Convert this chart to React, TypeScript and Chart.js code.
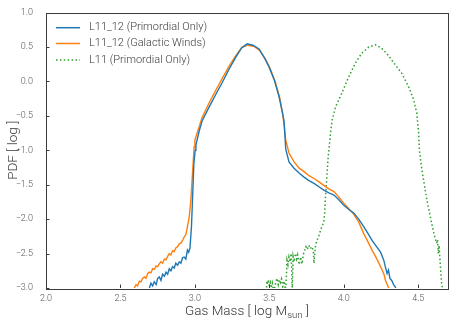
import React, { useEffect, useRef } from 'react';
import { Chart, registerables } from 'chart.js';

Chart.register(...registerables);

// ---------- data ----------
const xTicks = [2.0, 2.5, 3.0, 3.5, 4.0, 4.5];
const yTicks = [-3.0, -2.5, -2.0, -1.5, -1.0, -0.5, 0.0, 0.5, 1.0];
const seriesLabels = ['L11_12 (Primordial Only)', 'L11_12 (Galactic Winds)', 'L11 (Primordial Only)'];
const xLabelMain = 'Gas Mass [ log M';
const xLabelSub = 'sun';
const xLabelEnd = ' ]';
const yLabel = 'PDF [ log ]';

const primX = [2.680, 2.694, 2.705, 2.716, 2.727, 2.740, 2.750, 2.761, 2.772, 2.783, 2.795, 2.806, 2.817, 2.828, 2.839, 2.850, 2.861, 2.872, 2.884, 2.895, 2.906, 2.917, 2.928, 2.939, 2.950, 2.958, 2.967, 2.977, 2.984, 2.993, 3.002, 3.007, 3.029, 3.049, 3.096, 3.140, 3.183, 3.230, 3.277, 3.315, 3.351, 3.390, 3.431, 3.470, 3.498, 3.535, 3.565, 3.585, 3.599, 3.610, 3.632, 3.666, 3.700, 3.733, 3.766, 3.800, 3.833, 3.866, 3.900, 3.934, 3.967, 4.000, 4.034, 4.067, 4.100, 4.134, 4.160, 4.190, 4.220, 4.247, 4.260, 4.269, 4.280, 4.291, 4.300, 4.310, 4.322, 4.335, 4.347, 4.355];
const primY = [-3.05, -3.00, -2.93, -2.97, -2.91, -2.95, -2.86, -2.84, -2.89, -2.80, -2.83, -2.77, -2.80, -2.72, -2.75, -2.69, -2.71, -2.64, -2.67, -2.62, -2.64, -2.56, -2.55, -2.58, -2.45, -2.48, -2.42, -2.11, -1.72, -1.20, -1.00, -0.92, -0.72, -0.57, -0.37, -0.19, -0.02, 0.18, 0.36, 0.49, 0.545, 0.525, 0.47, 0.33, 0.21, 0.01, -0.22, -0.42, -0.58, -0.98, -1.17, -1.26, -1.33, -1.39, -1.44, -1.48, -1.53, -1.58, -1.62, -1.65, -1.72, -1.80, -1.86, -1.91, -2.00, -2.11, -2.20, -2.31, -2.40, -2.48, -2.55, -2.60, -2.70, -2.79, -2.74, -2.86, -2.89, -2.95, -2.99, -3.05];

const windX = [2.585, 2.593, 2.605, 2.615, 2.627, 2.638, 2.649, 2.660, 2.671, 2.683, 2.694, 2.705, 2.716, 2.727, 2.740, 2.750, 2.761, 2.772, 2.783, 2.795, 2.806, 2.817, 2.828, 2.839, 2.850, 2.861, 2.872, 2.884, 2.895, 2.906, 2.917, 2.928, 2.940, 2.950, 2.962, 2.973, 2.985, 2.995, 3.000, 3.029, 3.049, 3.096, 3.140, 3.183, 3.230, 3.277, 3.315, 3.355, 3.395, 3.435, 3.475, 3.505, 3.540, 3.570, 3.590, 3.600, 3.610, 3.632, 3.666, 3.700, 3.733, 3.766, 3.800, 3.833, 3.866, 3.900, 3.934, 3.967, 4.000, 4.034, 4.067, 4.100, 4.134, 4.160, 4.190, 4.220, 4.247, 4.270, 4.280, 4.302, 4.310];
const windY = [-3.05, -3.00, -2.95, -2.97, -2.90, -2.91, -2.86, -2.84, -2.86, -2.79, -2.77, -2.78, -2.72, -2.73, -2.68, -2.69, -2.65, -2.62, -2.64, -2.58, -2.59, -2.54, -2.50, -2.52, -2.46, -2.47, -2.42, -2.40, -2.36, -2.35, -2.31, -2.26, -2.22, -2.11, -1.97, -1.72, -1.30, -0.95, -0.85, -0.66, -0.52, -0.31, -0.13, 0.04, 0.22, 0.38, 0.49, 0.525, 0.51, 0.45, 0.32, 0.19, -0.01, -0.24, -0.48, -0.65, -0.85, -1.04, -1.17, -1.26, -1.31, -1.37, -1.41, -1.46, -1.51, -1.56, -1.60, -1.68, -1.77, -1.85, -1.93, -2.04, -2.21, -2.32, -2.45, -2.57, -2.69, -2.80, -2.89, -3.00, -3.05];

const l11X = [3.480, 3.483, 3.487, 3.493, 3.500, 3.507, 3.513, 3.520, 3.530, 3.545, 3.552, 3.560, 3.567, 3.575, 3.582, 3.590, 3.599, 3.610, 3.619, 3.625, 3.632, 3.640, 3.647, 3.654, 3.660, 3.666, 3.675, 3.683, 3.690, 3.700, 3.710, 3.719, 3.730, 3.746, 3.755, 3.765, 3.775, 3.785, 3.795, 3.800, 3.810, 3.820, 3.833, 3.844, 3.855, 3.866, 3.872, 3.877, 3.885, 3.895, 3.900, 3.911, 3.922, 3.945, 3.987, 4.034, 4.079, 4.121, 4.168, 4.213, 4.255, 4.290, 4.322, 4.360, 4.389, 4.436, 4.470, 4.490, 4.503, 4.508, 4.525, 4.559, 4.590, 4.610, 4.624, 4.630, 4.635, 4.640, 4.645, 4.649, 4.658, 4.671];
const l11Y = [-3.05, -2.90, -2.95, -2.88, -2.97, -2.92, -3.00, -2.93, -3.05, -2.90, -2.86, -2.95, -2.88, -2.92, -2.87, -2.98, -2.90, -3.05, -2.60, -2.66, -2.55, -2.62, -2.50, -3.05, -2.55, -2.62, -2.50, -2.58, -2.52, -2.66, -2.55, -2.65, -2.50, -2.40, -2.44, -2.38, -2.43, -2.40, -2.45, -2.64, -2.38, -2.31, -2.24, -2.16, -2.10, -2.04, -1.90, -1.68, -1.43, -1.10, -1.00, -0.75, -0.56, -0.37, -0.17, 0.07, 0.27, 0.41, 0.50, 0.53, 0.48, 0.40, 0.31, 0.20, 0.12, -0.08, -0.27, -0.46, -0.75, -1.00, -1.29, -1.73, -2.06, -2.25, -2.35, -2.30, -2.50, -2.38, -2.55, -2.69, -2.96, -3.05];

const colors = ['#1f77b4', '#ff7f0e', '#2ca02c'];
const dashes: number[][] = [[], [], [1.5, 2.4]];

const FONT = 'Roboto';
const fmt = (v: number) => v.toFixed(1).replace('-', '\u2212');
const toPts = (xs: number[], ys: number[]) => xs.map((x, i) => ({ x, y: ys[i] }));

const decor = {
  id: 'decor',
  afterDraw(chart: any) {
    const { ctx, chartArea: a, scales } = chart;
    const xs = scales.x;
    const ys = scales.y;
    ctx.save();
    // frame
    ctx.strokeStyle = '#3c3c3c';
    ctx.lineWidth = 1;
    ctx.strokeRect(Math.round(a.left) + 0.5, Math.round(a.top) + 0.5, Math.round(a.right - a.left), Math.round(a.bottom - a.top));
    // inward ticks
    ctx.beginPath();
    xTicks.forEach((v) => {
      const px = Math.round(xs.getPixelForValue(v)) + 0.5;
      ctx.moveTo(px, a.bottom);
      ctx.lineTo(px, a.bottom - 3.5);
    });
    yTicks.forEach((v) => {
      const py = Math.round(ys.getPixelForValue(v)) + 0.5;
      ctx.moveTo(a.left, py);
      ctx.lineTo(a.left + 3.5, py);
    });
    ctx.stroke();

    // legend
    const rows = [27.7, 43.5, 60];
    ctx.textBaseline = 'middle';
    ctx.textAlign = 'left';
    ctx.font = `300 11px ${FONT}`;
    seriesLabels.forEach((lab, i) => {
      const yy = rows[i];
      ctx.strokeStyle = colors[i];
      ctx.lineWidth = 1.5;
      ctx.setLineDash(dashes[i]);
      ctx.beginPath();
      ctx.moveTo(a.left + 10, yy);
      ctx.lineTo(a.left + 34, yy);
      ctx.stroke();
      ctx.setLineDash([]);
      ctx.fillStyle = '#3a3a3a';
      ctx.fillText(lab, a.left + 43, yy);
    });

    // x title with subscript
    const big = `300 13.5px ${FONT}`;
    const small = `300 9.5px ${FONT}`;
    ctx.font = big;
    const w1 = ctx.measureText(xLabelMain).width;
    const w3 = ctx.measureText(xLabelEnd).width;
    ctx.font = small;
    const w2 = ctx.measureText(xLabelSub).width;
    const total = w1 + w2 + w3;
    let sx = (a.left + a.right) / 2 - total / 2;
    const ty = 310;
    ctx.fillStyle = '#333';
    ctx.textBaseline = 'alphabetic';
    ctx.font = big;
    ctx.fillText(xLabelMain, sx, ty + 5);
    sx += w1;
    ctx.font = small;
    ctx.fillText(xLabelSub, sx, ty + 7.5);
    sx += w2;
    ctx.font = big;
    ctx.fillText(xLabelEnd, sx, ty + 5);

    // y title
    ctx.translate(14, (a.top + a.bottom) / 2);
    ctx.rotate(-Math.PI / 2);
    ctx.textAlign = 'center';
    ctx.textBaseline = 'middle';
    ctx.font = big;
    ctx.fillText(yLabel, 0, 0);
    ctx.restore();
  },
};

export default function App() {
  const ref = useRef<HTMLCanvasElement>(null);
  useEffect(() => {
    document.body.style.margin = '0';
    const canvas = ref.current!;
    const chart = new Chart(canvas, {
      type: 'line',
      data: {
        datasets: [
          { label: seriesLabels[0], data: toPts(primX, primY), borderColor: colors[0], borderWidth: 1.4, borderDash: dashes[0], pointRadius: 0, tension: 0, clip: 0 as any },
          { label: seriesLabels[1], data: toPts(windX, windY), borderColor: colors[1], borderWidth: 1.4, borderDash: dashes[1], pointRadius: 0, tension: 0, clip: 0 as any },
          { label: seriesLabels[2], data: toPts(l11X, l11Y), borderColor: colors[2], borderWidth: 1.5, borderDash: dashes[2], pointRadius: 0, tension: 0, clip: 0 as any },
        ],
      },
      options: {
        responsive: false,
        animation: false,
        devicePixelRatio: 1,
        layout: { padding: { top: 12.5, right: 9, left: 0, bottom: 0 } },
        plugins: { legend: { display: false }, tooltip: { enabled: false } },
        scales: {
          x: {
            type: 'linear',
            min: 2.0,
            max: 4.7,
            afterBuildTicks: (s: any) => { s.ticks = xTicks.map((v) => ({ value: v })); },
            afterFit: (s: any) => { s.height = 39; },
            grid: { display: false },
            border: { display: false },
            ticks: { padding: -3, color: '#555', font: { family: FONT, size: 9, weight: '300' as any }, callback: (v: any) => fmt(Number(v)), maxRotation: 0, autoSkip: false },
          },
          y: {
            type: 'linear',
            min: -3.0,
            max: 1.0,
            afterBuildTicks: (s: any) => { s.ticks = yTicks.map((v) => ({ value: v })); },
            afterFit: (s: any) => { s.width = 46; },
            grid: { display: false },
            border: { display: false },
            ticks: { padding: 5, color: '#555', font: { family: FONT, size: 9, weight: '300' as any }, callback: (v: any) => fmt(Number(v)), autoSkip: false },
          },
        },
      },
      plugins: [decor],
    });
    return () => chart.destroy();
  }, []);
  return (
    <div style={{ width: 457, height: 327 }}>
      <canvas ref={ref} width={457} height={327} style={{ display: 'block' }} />
    </div>
  );
}
